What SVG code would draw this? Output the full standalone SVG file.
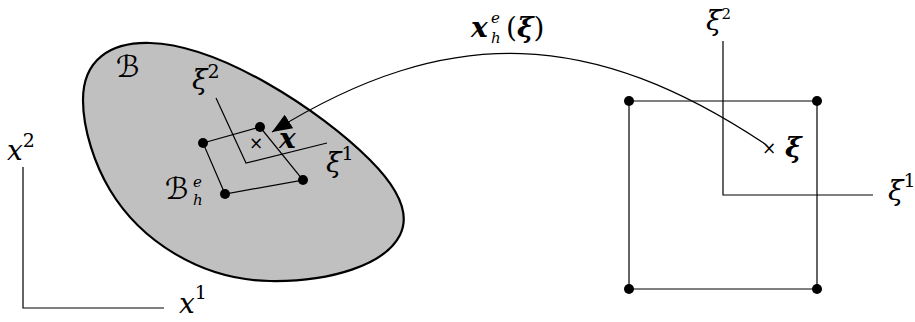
<svg xmlns="http://www.w3.org/2000/svg" width="915" height="322" viewBox="0 0 915 322">
<style>
.ln{fill:none;stroke:#000;stroke-width:1.2}
.dot{fill:#000}
.m{font-family:"DejaVu Serif","DejaVu Sans",serif;font-style:italic;font-size:28px;fill:#000}
.b{font-weight:bold}
.s{font-size:19px}
.t{font-size:15px}
.up{font-style:normal}
.sc{font-family:"DejaVu Sans",serif;font-style:normal;font-size:30px;fill:#000}
.cr{font-family:"DejaVu Sans",sans-serif;font-size:17px;text-anchor:middle;fill:#000}
</style>
<defs>
<marker id="ah" markerUnits="userSpaceOnUse" markerWidth="24" markerHeight="18" refX="20" refY="8" orient="auto">
<path d="M0,0 L20,8 L0,16 Z" fill="#000"/>
</marker>
</defs>
<rect width="915" height="322" fill="#fff"/>
<g id="global-axes">
<path class="ln" d="M23,167 V308 H164"/>
<text class="m" x="7" y="160">x<tspan class="s up" dy="-13">2</tspan></text>
<text class="m" x="179" y="313">x<tspan class="s up" dy="-14">1</tspan></text>
</g>
<g id="body">
<path d="M83,100 C83,60 110,42 150,43 C220,45 320,110 370,160 C400,190 410,215 400,235 C385,265 330,282 270,281 C200,280 140,240 110,190 C95,165 83,130 83,100 Z" fill="#c0c0c0" stroke="#000" stroke-width="2.2"/>
<text class="sc" x="116" y="77">ℬ</text>
</g>
<g id="element">
<path class="ln" d="M216,98 L246,163 L327,143"/>
<text class="m" x="192" y="89">ξ<tspan class="s up" dy="-11">2</tspan></text>
<text class="m" x="326" y="172">ξ<tspan class="s up" dy="-12">1</tspan></text>
<path class="ln" d="M203,143 L260,127 L303,180 L225,194 Z"/>
<circle class="dot" cx="203" cy="143" r="5"/>
<circle class="dot" cx="260" cy="127" r="5"/>
<circle class="dot" cx="303" cy="180" r="5"/>
<circle class="dot" cx="225" cy="194" r="5"/>
<text class="cr" x="256" y="149">×</text>
<text class="m b" x="279" y="148">x</text>
<text class="sc" x="165" y="199">ℬ</text>
<text class="m t" x="193" y="187">e</text>
<text class="m t" x="193" y="205">h</text>
</g>
<g id="reference-element">
<path class="ln" d="M723,41 V195 H873"/>
<text class="m" x="706" y="30">ξ<tspan class="t up" dy="-11">2</tspan></text>
<text class="m" x="888" y="200">ξ<tspan class="s up" dy="-13">1</tspan></text>
<path class="ln" d="M629,101 H817 V289 H629 Z"/>
<circle class="dot" cx="629" cy="101" r="5"/>
<circle class="dot" cx="817" cy="101" r="5"/>
<circle class="dot" cx="817" cy="289" r="5"/>
<circle class="dot" cx="629" cy="289" r="5"/>
<text class="cr" x="769" y="154">×</text>
<text class="m b" x="785" y="157">ξ</text>
</g>
<g id="connectors">
<path class="ln" d="M765,144 C594,30 450,21 272,132" marker-end="url(#ah)"/>
<text class="m b" x="471" y="37">x</text>
<text class="m t" x="491" y="23">e</text>
<text class="m t" x="491" y="43">h</text>
<text class="m" x="506" y="37"><tspan class="up">(</tspan><tspan class="b">ξ</tspan><tspan class="up">)</tspan></text>
</g>
</svg>
